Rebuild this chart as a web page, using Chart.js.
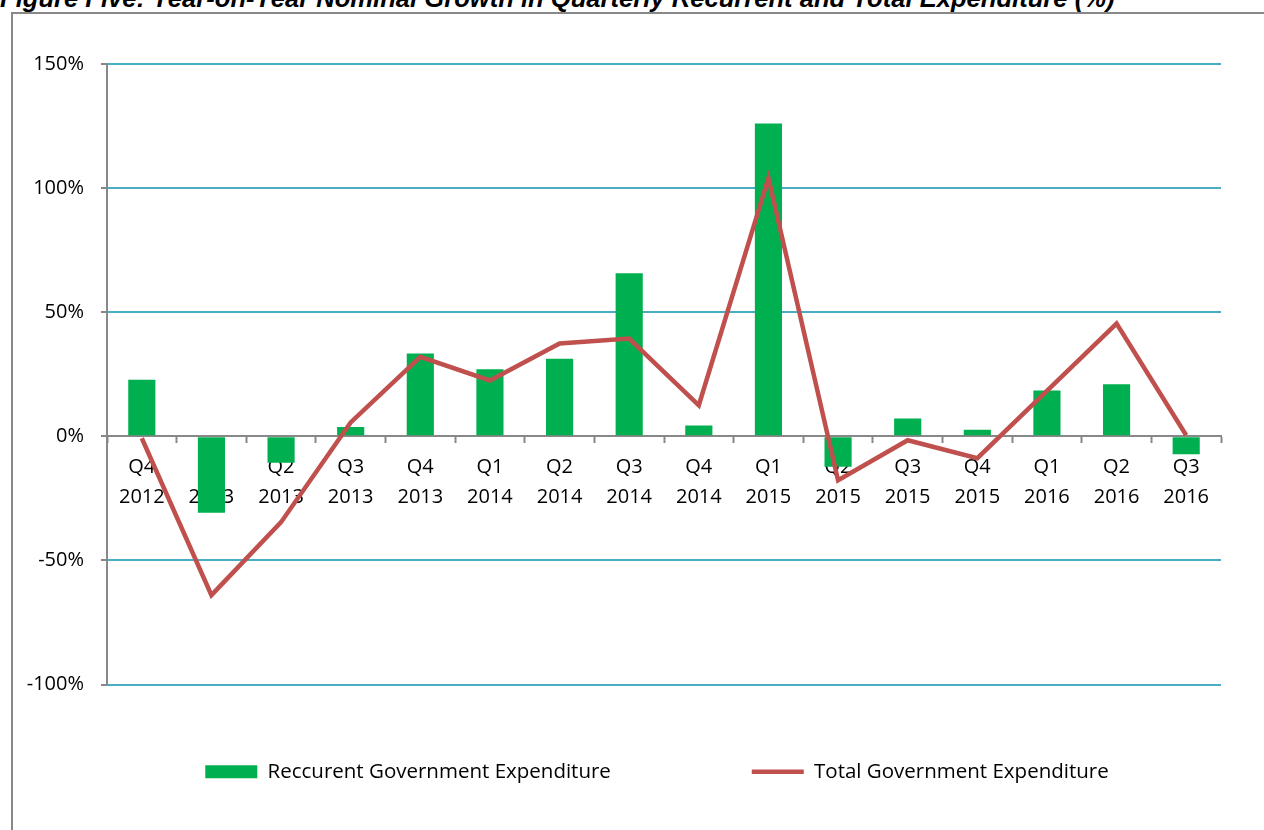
<!DOCTYPE html>
<html><head><meta charset="utf-8">
<script src="https://cdn.jsdelivr.net/npm/chart.js@4.4.1/dist/chart.umd.min.js"></script>
<style>
html,body{margin:0;padding:0;background:#fff;overflow:hidden;width:1264px;height:830px;}
#title{position:absolute;left:0px;top:-14px;font:italic bold 25.6px "Liberation Sans",Arial,sans-serif;line-height:25.6px;white-space:nowrap;color:#000;}
#frame{position:absolute;left:11px;top:12px;width:1400px;height:900px;border-left:2px solid #888;border-top:2px solid #888;}
#wrap{position:absolute;left:13px;top:14px;width:1300px;height:830px;}
</style></head><body>
<div id="title">Figure Five: Year-on-Year Nominal Growth in Quarterly Recurrent and Total Expenditure (%)</div>
<div id="frame"></div>
<div id="wrap"><canvas id="c" width="1300" height="830"></canvas></div>
<script>
const categories = ['Q4 2012','Q1 2013','Q2 2013','Q3 2013','Q4 2013','Q1 2014','Q2 2014','Q3 2014',
                    'Q4 2014','Q1 2015','Q2 2015','Q3 2015','Q4 2015','Q1 2016','Q2 2016','Q3 2016'];
const recurrentExpenditure = [22.8, -30.8, -10.7, 3.7, 33.4, 27, 31.2, 65.7, 4.4, 126, -12.3, 7.2, 2.6, 18.5, 21, -7.2];
const totalExpenditure = [-0.8, -64, -34.6, 5.6, 32, 22.5, 37.4, 39.4, 12.5, 104, -17.7, -1.6, -8.8, 18.3, 45.4, 0.4];
const yTickValues = [-100, -50, 0, 50, 100, 150];
const seriesNames = ['Reccurent Government Expenditure', 'Total Government Expenditure'];

Chart.defaults.font.family = '"Open Sans", sans-serif';
Chart.defaults.font.size = 20;
Chart.defaults.color = '#000';

const AXIS_GRAY = '#888888';

new Chart(document.getElementById('c'), {
  type: 'bar',
  data: {
    labels: categories.map(c => c.split(' ')),
    datasets: [
      {
        type: 'bar',
        label: seriesNames[0],
        data: recurrentExpenditure,
        backgroundColor: '#00B050',
        borderWidth: 0,
        barPercentage: 0.39,
        categoryPercentage: 1,
        pointStyle: 'rect',
        order: 1
      },
      {
        type: 'line',
        label: seriesNames[1],
        data: totalExpenditure,
        borderColor: '#C0504D',
        backgroundColor: '#C0504D',
        borderWidth: 4.5,
        pointRadius: 0,
        pointHoverRadius: 0,
        pointStyle: 'line',
        tension: 0,
        fill: false,
        order: 0
      }
    ]
  },
  options: {
    responsive: false,
    animation: false,
    devicePixelRatio: 1,
    layout: { padding: { top: 50, left: 0, right: 12, bottom: 52 } },
    plugins: {
      tooltip: { enabled: false },
      title: { display: false },
      legend: {
        position: 'bottom',
        labels: {
          usePointStyle: true,
          pointStyleWidth: 52,
          boxHeight: 13,
          padding: 77,
          font: { size: 20.5 },
          color: '#000',
          sort: (a, b) => a.datasetIndex - b.datasetIndex,
          generateLabels: (chart) => {
            const items = Chart.defaults.plugins.legend.labels.generateLabels(chart);
            items.forEach(it => { if (it.datasetIndex === 0) it.text = it.text + '            '; });
            return items;
          }
        }
      }
    },
    scales: {
      x: {
        position: { y: 0 },
        offset: true,
        grid: {
          display: true,
          offset: true,
          drawOnChartArea: false,
          drawTicks: true,
          tickLength: 6,
          tickColor: AXIS_GRAY,
          tickWidth: 2,
          color: AXIS_GRAY
        },
        border: { display: true, color: AXIS_GRAY, width: 2 },
        ticks: {
          autoSkip: false,
          maxRotation: 0,
          minRotation: 0,
          padding: 10,
          font: { size: 20, lineHeight: 1.5 },
          color: '#000'
        },
        afterFit: (s) => { s.height = 0; }
      },
      y: {
        min: yTickValues[0],
        max: yTickValues[yTickValues.length - 1],
        afterBuildTicks: (s) => { s.ticks = yTickValues.map(v => ({ value: v })); },
        grid: {
          color: (ctx) => (ctx.tick && ctx.tick.value === 0) ? 'rgba(0,0,0,0)' : '#4BACC6',
          lineWidth: 2,
          drawTicks: true,
          tickLength: 6,
          tickColor: AXIS_GRAY,
          tickWidth: 2
        },
        border: { display: true, color: AXIS_GRAY, width: 2 },
        ticks: {
          padding: 17,
          font: { size: 20 },
          color: '#000',
          callback: (v) => v + '%'
        },
        afterFit: (s) => { s.width = 94; }
      },
      ySpacer: {
        type: 'linear',
        position: 'right',
        display: true,
        grid: { display: false, drawTicks: false },
        border: { display: false },
        ticks: { display: false },
        afterFit: (s) => { s.width = 80; }
      }
    }
  }
});
</script>
</body></html>
